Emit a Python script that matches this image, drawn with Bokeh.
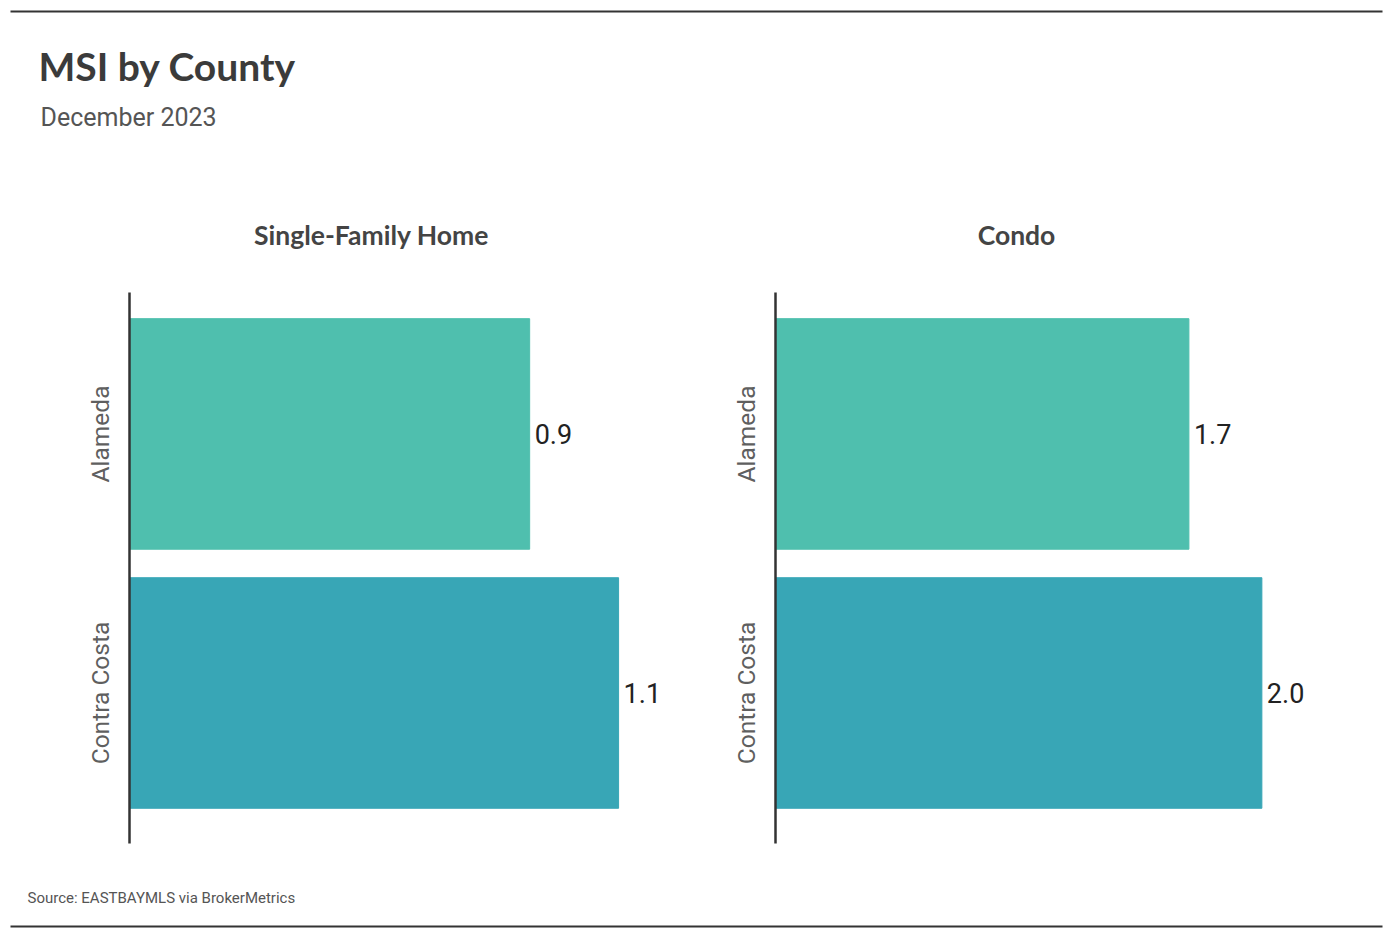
from bokeh.plotting import figure
from bokeh.models import Range1d, Label, ColumnDataSource, FixedTicker
from bokeh.layouts import column, row
from bokeh.embed import file_html
from bokeh.resources import INLINE
from bokeh.core.properties import value

# ---- data ----
title = "MSI by County"
subtitle = "December 2023"
source_note = "Source:  EASTBAYMLS via BrokerMetrics"
panel_titles = ["Single-Family Home", "Condo"]
counties = ["Alameda", "Contra Costa"]
sfh_msi = [0.9, 1.1]
condo_msi = [1.7, 2.0]
bar_colors = ["#4FBFAE", "#38A6B6"]

# ---- styles ----
NARROW = "Roboto"
BOLD = "Lato"
RULE = "#333333"


def blank(width, height, x0, x1, y_top, y_bottom):
    p = figure(width=width, height=height, x_range=Range1d(x0, x1),
               y_range=Range1d(y_bottom, y_top), output_backend="svg",
               toolbar_location=None, x_axis_location=None, y_axis_location=None,
               min_border=0, outline_line_color=None)
    p.grid.visible = False
    return p


# header (page pixel coordinates)
header = blank(1388, 275, 0, 1388, 0, 275)
header.segment(x0=[10], y0=[11], x1=[1382], y1=[11], line_color=RULE, line_width=2)
header.add_layout(Label(x=38, y=65, text=title, text_font=BOLD, text_font_style="bold",
                        text_font_size="39px", text_color="#3b3b3b", text_baseline="alphabetic"))
header.add_layout(Label(x=40, y=116.5, text=subtitle, text_font=NARROW,
                        text_font_size="25px", text_color="#555555", text_baseline="alphabetic"))
for cx, t in zip([371, 1016], panel_titles):
    header.add_layout(Label(x=cx, y=234, text=t, text_font=BOLD, text_font_style="bold",
                            text_font_size="26.5px", text_color="#444444",
                            text_baseline="alphabetic", text_align="center"))


def panel(values, width, left_border, right_border):
    n = len(counties)
    pos = [n - 1 - i for i in range(n)]  # first county on top
    src = ColumnDataSource(dict(pos=pos, county=counties, msi=values, color=bar_colors,
                                label=[f"{v:.1f}" for v in values]))
    p = figure(width=width, height=585,
               y_range=Range1d(-0.581, n - 1 + 0.546),
               x_range=Range1d(0, max(values) * 1.1),
               output_backend="svg", toolbar_location=None, x_axis_location=None,
               min_border_left=left_border, min_border_right=right_border,
               min_border_top=17, min_border_bottom=17, outline_line_color=None)
    p.grid.visible = False
    p.hbar(y="pos", left=0, right="msi", height=0.89, color="color", source=src)
    p.text(x="msi", y="pos", text="label", x_offset=5, text_baseline="middle",
           text_font=value(NARROW), text_font_size="27px", text_color="#222222", source=src)
    ax = p.yaxis[0]
    ax.ticker = FixedTicker(ticks=pos)
    ax.major_label_overrides = {p_: c for p_, c in zip(pos, counties)}
    ax.axis_line_color = RULE
    ax.axis_line_width = 2.5
    ax.major_tick_line_color = None
    ax.minor_tick_line_color = None
    ax.major_tick_out = 0
    ax.major_tick_in = 0
    ax.major_label_orientation = "vertical"
    ax.major_label_text_font = NARROW
    ax.major_label_text_font_size = "24.5px"
    ax.major_label_text_color = "#5f5f5f"
    ax.major_label_standoff = 14
    return p


left = panel(sfh_msi, 700, 129, 33)
right = panel(condo_msi, 688, 75, 78)

footer = blank(1388, 72, 0, 1388, 860, 932)
footer.add_layout(Label(x=27, y=897, text=source_note, text_font=NARROW,
                        text_font_size="15px", text_color="#555555", text_baseline="alphabetic"))
footer.segment(x0=[10], y0=[926], x1=[1382], y1=[926], line_color=RULE, line_width=2)

layout = column(header, row(left, right), footer)
open("out.html", "w").write(file_html(layout, INLINE))
